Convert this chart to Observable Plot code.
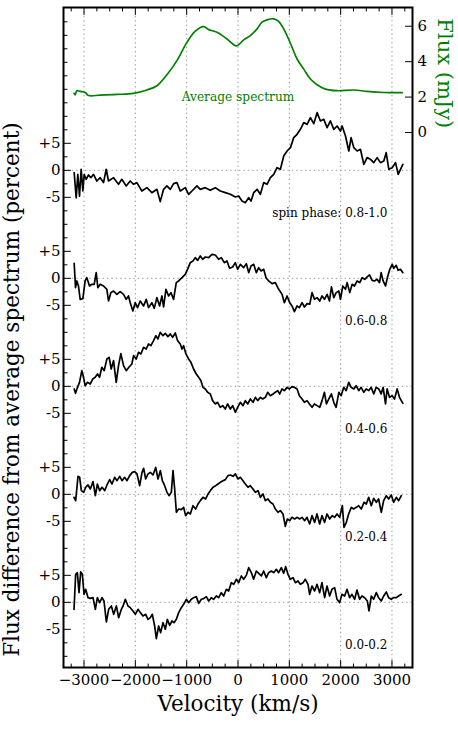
<!DOCTYPE html>
<html><head><meta charset="utf-8">
<script src="https://cdn.jsdelivr.net/npm/d3@7"></script>
<script src="https://cdn.jsdelivr.net/npm/@observablehq/plot@0.6"></script>
<style>html,body{margin:0;padding:0;background:#fff;} #chart svg{display:block}</style>
</head><body><div id="chart"></div>
<script>
// ---------------- data ----------------
const avgVel = [-3192,-3173,-3140,-3075,-2978,-2913,-2685,-2360,-2035,-1775,-1580,-1385,-1190,-995,-832,-670,-572,-410,-215,-33,111,241,371,468,566,696,793,891,1021,1151,1281,1411,1541,1704,1931,2256,2516,2841,3199];
const avgFlux = [2.21,2.13,2.36,2.32,2.26,2.09,2.11,2.15,2.21,2.40,2.64,3.26,4.06,5.09,5.72,5.98,5.81,5.66,5.28,4.89,5.23,5.47,5.85,6.23,6.36,6.42,6.28,5.85,5.04,4.15,3.58,3.02,2.70,2.45,2.36,2.40,2.32,2.26,2.25];

const vel08 = [-3192,-3153,-3121,-3088,-3056,-3023,-2997,-2958,-2913,-2867,-2815,-2750,-2685,-2620,-2568,-2523,-2425,-2328,-2263,-2178,-2100,-2035,-1970,-1873,-1775,-1678,-1580,-1515,-1450,-1385,-1320,-1255,-1190,-1125,-1027,-962,-897,-800,-735,-637,-540,-442,-345,-247,-150,-52,13,78,143,208,254,306,371,436,501,566,631,696,761,826,891,956,1021,1086,1151,1216,1281,1346,1411,1476,1541,1606,1671,1736,1801,1866,1931,1996,2029,2094,2159,2204,2256,2321,2386,2451,2516,2581,2646,2711,2776,2841,2887,2939,3004,3069,3121,3166,3212];
const diff08 = [-0.43,-5.12,-0.74,-4.81,0.19,-3.83,-0.74,-1.67,-0.86,-1.36,-0.74,-1.98,-1.36,-2.28,0.19,-1.98,-1.36,-2.59,-1.67,-2.90,-1.98,-2.59,-2.28,-3.83,-3.21,-4.14,-3.52,-5.80,-3.52,-2.90,-3.52,-2.47,-2.28,-3.83,-3.21,-4.44,-3.83,-2.90,-3.52,-3.21,-3.70,-3.21,-3.83,-4.14,-4.44,-4.94,-4.75,-5.68,-5.99,-5.06,-5.68,-4.14,-3.52,-4.44,-2.28,-2.59,-1.36,-0.74,0.49,0.19,2.65,3.58,4.20,6.05,6.67,7.59,8.83,8.52,9.75,8.64,10.68,9.14,9.44,7.90,9.14,7.59,8.21,7.28,8.21,6.36,3.58,6.05,4.20,3.58,3.89,1.11,2.35,2.04,1.42,2.35,1.42,1.73,3.27,0.19,0.49,1.42,-0.74,0.19,1.11];

const vel06 = [-3192,-3166,-3140,-3108,-3075,-3023,-2978,-2945,-2893,-2848,-2802,-2763,-2731,-2685,-2620,-2555,-2523,-2477,-2425,-2360,-2295,-2230,-2178,-2133,-2100,-2048,-2003,-1957,-1905,-1840,-1788,-1743,-1678,-1632,-1580,-1528,-1482,-1450,-1404,-1352,-1307,-1255,-1203,-1157,-1092,-1027,-975,-930,-878,-832,-787,-735,-689,-637,-572,-507,-442,-377,-325,-267,-215,-163,-104,-52,-7,46,111,163,208,254,306,358,403,449,501,546,598,663,728,793,858,904,956,1008,1053,1099,1151,1196,1248,1294,1346,1398,1443,1489,1541,1593,1638,1684,1736,1782,1821,1866,1912,1964,1996,2042,2094,2126,2178,2224,2269,2321,2373,2419,2471,2516,2562,2614,2659,2711,2757,2789,2828,2874,2919,2958,3004,3036,3082,3121,3166,3212];
const diff06 = [2.78,-1.73,-0.49,-1.42,-3.89,-3.77,-0.49,0.12,-1.42,-1.11,-1.11,1.05,-1.73,-1.11,-1.42,-2.04,-4.20,-2.65,-2.35,-2.96,-2.47,-2.96,-3.89,-3.27,-4.51,-6.05,-4.51,-5.43,-4.20,-5.12,-3.89,-5.43,-4.51,-5.56,-3.58,-5.12,-3.27,-5.31,-2.04,-3.27,-2.65,-3.89,-0.80,-0.49,0.12,0.74,1.85,2.90,3.21,3.83,3.33,4.14,3.52,3.95,3.83,4.44,4.32,3.52,3.83,2.90,3.21,1.85,2.10,2.90,1.67,2.59,1.98,2.72,1.05,2.28,2.59,1.05,1.98,1.36,1.67,0.12,-0.49,-0.99,-0.80,-2.04,-2.96,-4.51,-3.27,-4.51,-5.12,-6.17,-5.12,-5.43,-4.51,-5.31,-4.69,-4.81,-2.65,-3.89,-3.58,-4.20,-3.27,-3.89,-2.96,-4.20,-1.60,-3.58,-2.65,-2.35,-3.89,-1.42,-2.04,-0.80,-2.65,-1.11,-1.42,-0.49,-0.80,0.12,-0.19,0.25,0.62,-0.37,-0.49,-0.19,-0.80,1.05,-0.49,-1.42,0.43,1.67,2.59,1.85,2.41,1.48,1.67,1.05];

const vel04 = [-3192,-3166,-3127,-3088,-3043,-3010,-2978,-2932,-2880,-2828,-2783,-2737,-2698,-2653,-2607,-2555,-2510,-2471,-2425,-2373,-2328,-2282,-2230,-2178,-2126,-2068,-2035,-1983,-1938,-1892,-1840,-1788,-1743,-1697,-1645,-1599,-1560,-1515,-1463,-1417,-1365,-1320,-1274,-1222,-1177,-1125,-1092,-1060,-1014,-962,-917,-865,-813,-767,-722,-683,-637,-592,-540,-494,-442,-397,-345,-299,-247,-202,-150,-104,-52,-7,46,98,143,189,241,293,338,384,436,481,533,579,631,683,728,774,813,858,904,956,1001,1053,1099,1151,1196,1248,1294,1346,1391,1443,1489,1541,1593,1638,1684,1723,1769,1821,1866,1912,1964,2009,2061,2107,2159,2204,2256,2302,2354,2399,2451,2497,2549,2594,2646,2691,2743,2789,2828,2874,2906,2952,3004,3049,3101,3147,3212];
const diff04 = [-0.49,-1.30,-0.19,0.74,2.90,1.67,0.12,0.74,0.43,1.36,1.67,2.28,1.67,3.52,2.90,5.06,5.37,3.21,4.75,0.74,3.83,6.05,3.83,2.90,3.52,4.14,5.68,5.06,6.30,5.99,7.22,6.91,7.84,7.53,8.46,9.38,8.77,10.0,9.38,9.81,9.20,9.69,9.07,9.88,8.46,7.84,6.91,7.53,5.99,5.06,4.44,3.21,2.28,1.67,1.05,-0.19,-0.49,-1.11,-1.42,-2.65,-3.27,-2.96,-3.89,-3.58,-4.20,-3.27,-4.20,-3.58,-4.81,-3.89,-2.96,-3.58,-2.65,-3.27,-2.35,-2.96,-2.04,-2.65,-2.04,-2.35,-2.04,-1.11,-1.73,-1.42,-1.11,-0.80,-1.42,-0.49,-0.80,-0.19,-0.49,-0.06,-0.19,-0.49,-1.73,-2.35,-2.96,-2.65,-3.27,-3.89,-3.27,-3.58,-3.89,-2.65,-1.11,-3.27,-2.35,-1.42,-2.96,-3.89,-1.11,-1.73,-0.19,-0.80,0.74,-0.19,-0.49,0.12,-0.80,-0.19,-1.11,-0.49,-0.80,-0.19,-1.42,-0.19,-0.49,-1.42,-0.19,-3.27,-0.49,-2.04,-1.73,-2.35,-0.49,-2.04,-3.15];

const vel02 = [-3195,-3163,-3117,-3085,-3052,-3007,-2968,-2922,-2877,-2825,-2779,-2740,-2695,-2649,-2597,-2552,-2500,-2455,-2403,-2357,-2305,-2260,-2208,-2163,-2111,-2059,-2013,-1968,-1916,-1870,-1838,-1799,-1753,-1708,-1656,-1604,-1559,-1513,-1474,-1429,-1383,-1344,-1299,-1266,-1234,-1201,-1156,-1104,-1059,-1020,-974,-929,-877,-825,-779,-734,-682,-630,-584,-539,-487,-435,-390,-344,-292,-247,-195,-149,-97,-52,0,45,97,143,195,240,292,338,390,435,487,533,584,630,682,727,779,825,877,922,961,1007,1052,1104,1156,1201,1247,1299,1344,1396,1442,1494,1539,1591,1636,1688,1734,1786,1838,1883,1929,1981,2033,2065,2111,2156,2208,2253,2305,2351,2403,2455,2500,2546,2598,2643,2695,2740,2792,2838,2890,2935,2987,3032,3085,3130,3182];
const diff02 = [-0.56,-1.17,3.33,3.15,0.68,0.37,1.30,1.73,0.99,2.35,-0.25,1.91,0.68,1.30,0.68,1.73,2.72,1.91,3.15,2.53,3.33,2.53,3.15,2.53,3.46,4.07,4.20,3.77,1.60,4.07,4.81,2.84,3.77,4.07,3.58,4.98,2.84,4.38,2.53,1.60,0.37,-0.25,0.37,4.38,0.99,-3.33,-2.72,-2.84,-2.41,-3.95,-3.33,-3.64,-2.10,-2.72,-1.79,-1.17,-0.56,-0.86,0.06,0.68,1.30,1.60,1.91,2.22,2.53,2.72,3.46,3.58,3.33,3.77,2.84,3.15,2.53,1.91,1.30,1.60,0.99,0.37,0.68,-0.56,0.06,-1.17,-0.86,-1.48,-1.79,-2.72,-3.33,-3.02,-3.64,-5.93,-4.57,-4.88,-4.26,-4.57,-4.26,-4.57,-4.26,-4.88,-4.26,-5.49,-3.95,-5.19,-3.64,-5.49,-3.95,-5.19,-3.64,-4.57,-3.95,-4.26,-3.64,-4.26,-2.10,-6.11,-5.19,-3.64,-2.41,-2.72,-2.41,-2.10,-2.72,-1.48,-1.79,-0.56,-2.10,-0.74,-1.48,-0.86,-3.33,-1.17,-0.25,-0.86,-0.12,-1.48,-0.56,-1.17,-0.25];

const vel00 = [-3195,-3163,-3130,-3098,-3065,-3033,-3000,-2968,-2922,-2877,-2825,-2779,-2740,-2695,-2649,-2611,-2565,-2520,-2468,-2422,-2370,-2325,-2273,-2240,-2195,-2143,-2098,-2046,-2000,-1948,-1903,-1851,-1799,-1753,-1708,-1669,-1624,-1591,-1546,-1507,-1461,-1416,-1377,-1331,-1286,-1247,-1201,-1156,-1104,-1059,-1007,-961,-909,-864,-812,-766,-714,-669,-617,-571,-520,-474,-422,-377,-325,-279,-227,-182,-130,-84,-32,13,65,110,162,208,260,305,357,403,455,500,552,597,649,695,747,792,844,890,929,974,1020,1072,1117,1169,1214,1266,1312,1364,1396,1442,1494,1539,1591,1636,1688,1734,1786,1831,1883,1929,1981,2026,2078,2124,2175,2221,2273,2318,2370,2416,2468,2520,2552,2598,2643,2695,2740,2792,2838,2890,2935,2987,3032,3085,3130,3182];
const diff00 = [-1.30,5.19,5.49,1.79,5.62,5.19,1.48,2.41,0.86,0.74,0.86,-1.30,0.86,-0.06,0.86,0.25,-3.64,-1.30,-0.68,-2.22,-0.68,-2.84,-1.30,-0.68,0.56,-0.68,-0.99,-1.60,-2.22,-1.30,-1.91,-2.53,-2.22,-3.15,-2.84,-2.22,-4.38,-6.73,-4.38,-5.62,-3.77,-4.98,-3.15,-4.26,-3.46,-3.77,-3.15,-1.91,-0.99,-0.37,0.56,-0.06,0.56,0.86,1.05,-0.19,0.56,0.68,1.05,0.25,0.86,0.56,1.17,0.86,1.79,1.17,2.41,2.10,3.64,3.33,4.26,3.64,4.88,4.26,4.99,6.42,5.49,4.26,5.80,5.37,4.88,5.80,4.57,5.49,5.80,5.49,6.11,5.49,6.42,5.37,6.60,5.19,4.26,4.57,3.64,3.95,3.33,3.64,4.26,3.33,1.48,3.02,2.10,3.33,1.79,3.64,0.86,3.02,1.17,2.41,2.72,0.56,-0.06,1.48,1.17,2.41,0.86,1.48,0.56,2.28,0.56,1.17,0.86,0.25,-1.60,1.17,0.56,1.79,0.86,0.25,1.17,1.91,0.86,0.56,0.86,0.86,1.17,1.48];

const phaseLabels = ["0.0-0.2", "0.2-0.4", "0.4-0.6", "0.6-0.8", "spin phase: 0.8-1.0"];
const velTicks = [-3000, -2000, -1000, 0, 1000, 2000, 3000];
const fluxTicks = [0, 2, 4, 6];
const offsetTicks = [-5, 0, 5];

// ---------------- layout helpers ----------------
const SPACING = 20;                 // percent between stacked curves
const FLUX0 = 87.0, FLUXK = 3.28;   // right (mJy) axis -> left axis units
const toY = f => FLUX0 + f * FLUXK;
const GREEN = "#008000";
const FONT = "'DejaVu Serif', serif";

const series = [[vel00, diff00], [vel02, diff02], [vel04, diff04], [vel06, diff06], [vel08, diff08]];
const rows = series.flatMap(([vs, ds], k) =>
  vs.slice(0, Math.min(vs.length, ds.length)).map((v, i) => ({v, y: ds[i] + k * SPACING, k})));
const avgRows = avgVel.map((v, i) => ({v, f: avgFlux[i]}));
const zeros = series.map((_, k) => k * SPACING);
const leftMajor = zeros.flatMap(z => offsetTicks.map(o => z + o));
const leftMinor = d3.range(-10, 110, 2.5).filter(d => !leftMajor.some(m => Math.abs(m - d) < 1e-6));
const xAll = d3.range(-3250, 3251, 250);
const xMajor = xAll.filter(d => d % 1000 === 0);
const xMinor = xAll.filter(d => d % 1000 !== 0);
const line = {draw(ctx, l) { ctx.moveTo(0, 0); ctx.lineTo(0, -l); }};
const tk = (data, opts) => Plot.vector(data, {anchor: "start", shape: line, stroke: "black", strokeWidth: 1, ...opts});
const leftFmt = d => {
  const o = Math.round(d - SPACING * Math.round(d / SPACING));
  return o > 0 ? "+" + o : o < 0 ? "-" + Math.abs(o) : "0";
};
const dotted = {stroke: "#9a9a9a", strokeWidth: 1, strokeDasharray: "1.4,3"};

const chart = Plot.plot({
  width: 458, height: 741,
  marginLeft: 63, marginRight: 46, marginTop: 7, marginBottom: 74,
  style: {fontFamily: FONT, fontSize: "15px", background: "white", color: "black", overflow: "visible"},
  x: {domain: [-3400, 3400], label: null},
  y: {domain: [-12.07, 110.15], label: null},
  marks: [
    Plot.ruleX(velTicks, dotted),
    Plot.ruleY(zeros, dotted),
    Plot.line(avgRows, {x: "v", y: d => toY(d.f), stroke: GREEN, strokeWidth: 1.7, curve: "catmull-rom"}),
    Plot.line(rows, {x: "v", y: "y", z: "k", stroke: "black", strokeWidth: 1.7, strokeLinejoin: "round"}),
    Plot.frame({stroke: "black", strokeWidth: 2}),
    tk(xMajor, {x: d => d, frameAnchor: "bottom", rotate: 0, length: 7}),
    tk(xMinor, {x: d => d, frameAnchor: "bottom", rotate: 0, length: 3.5}),
    tk(xMajor, {x: d => d, frameAnchor: "top", rotate: 180, length: 7}),
    tk(xMinor, {x: d => d, frameAnchor: "top", rotate: 180, length: 3.5}),
    tk(leftMajor, {y: d => d, frameAnchor: "left", rotate: 90, length: 7}),
    tk(leftMinor, {y: d => d, frameAnchor: "left", rotate: 90, length: 3.5}),
    tk(fluxTicks.map(toY), {y: d => d, frameAnchor: "right", rotate: -90, length: 7}),
    Plot.axisX(velTicks, {anchor: "bottom", tickSize: 0, tickPadding: 7, fontSize: 15, label: null,
      tickFormat: d => d < 0 ? "\u2212" + (-d) : String(d)}),
    Plot.axisY(leftMajor, {anchor: "left", tickSize: 0, tickPadding: 3, fontSize: 15, label: null, tickFormat: leftFmt}),
    Plot.axisY(fluxTicks.map(toY), {anchor: "right", tickSize: 0, tickPadding: 5, fontSize: 15, label: null,
      tickFormat: d => String(Math.round((d - FLUX0) / FLUXK))}),
    Plot.text(phaseLabels, {x: () => 2910, y: (d, i) => zeros[i] - 8, text: d => d, textAnchor: "end",
      lineAnchor: "middle", fontSize: 12, fill: "black"}),
    Plot.text(["Average spectrum"], {x: () => 0, y: () => toY(2.0), text: d => d, fill: GREEN, fontSize: 12.2,
      textAnchor: "middle", lineAnchor: "middle"}),
    Plot.text(["Flux difference from average spectrum (percent)"], {frameAnchor: "left", y: () => 39.4, dx: -51,
      rotate: -90, text: d => d, fontSize: 21.5, textAnchor: "middle", lineAnchor: "middle", fill: "black"}),
    Plot.text(["Velocity (km/s)"], {frameAnchor: "bottom", x: () => 0, dy: 37, text: d => d, fontSize: 21.5,
      textAnchor: "middle", lineAnchor: "middle", fill: "black"}),
    Plot.text(["Flux (mJy)"], {frameAnchor: "right", y: () => 97.96, dx: 32, rotate: 90,
      text: d => d, fontSize: 21, fill: GREEN, textAnchor: "middle", lineAnchor: "middle"})
  ]
});
document.getElementById("chart").appendChild(chart);
</script>
</body></html>
